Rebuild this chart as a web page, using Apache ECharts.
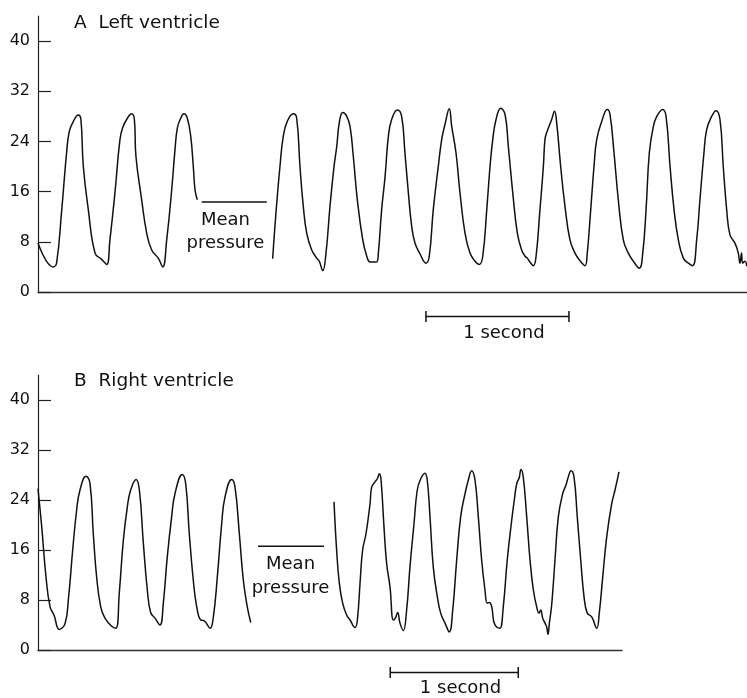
<!DOCTYPE html>
<html>
<head>
<meta charset="utf-8">
<script src="https://cdn.jsdelivr.net/npm/echarts@6/dist/echarts.min.js"></script>
<style>html,body{margin:0;padding:0;background:#fff;}#c{width:747px;height:698px;}</style>
</head>
<body>
<div id="c"></div>
<script>
// Tick labels (mmHg)
var yTicks = [0, 8, 16, 24, 32, 40];

// Panel A: left ventricle (time in s, pressure in mmHg)
var lvTime1 = [0, 0.107, 0.13, 0.166, 0.20, 0.219, 0.247, 0.282, 0.30, 0.317, 0.352, 0.399, 0.445, 0.48, 0.503, 0.538, 0.573, 0.592, 0.625, 0.655, 0.674, 0.685, 0.725, 0.76, 0.795, 0.841, 0.872, 0.90, 0.935, 0.958, 0.975, 0.998, 1.021, 1.044, 1.068, 1.086, 1.098, 1.114];
var lvPress1 = [7.8, 4.0, 4.6, 13.1, 22.2, 25.6, 27.2, 28.2, 27.5, 20.0, 13.1, 6.2, 5.2, 4.4, 8.3, 15.8, 24.3, 26.2, 27.7, 28.4, 27.5, 21.6, 14.7, 9.4, 6.7, 5.4, 4.0, 8.3, 16.3, 22.7, 26.2, 27.7, 28.4, 27.7, 24.8, 20.0, 16.3, 14.7];
var lvTime2 = [1.641, 1.664, 1.692, 1.715, 1.743, 1.785, 1.809, 1.832, 1.855, 1.879, 1.914, 1.949, 1.967, 1.991, 2.014, 2.042, 2.07, 2.089, 2.107, 2.131, 2.159, 2.182, 2.205, 2.233, 2.271, 2.299, 2.322, 2.368, 2.38, 2.403, 2.427, 2.45, 2.473, 2.513, 2.543, 2.566, 2.59, 2.613, 2.636, 2.671, 2.713, 2.736, 2.764, 2.799, 2.823, 2.846, 2.876, 2.893, 2.923, 2.951, 2.986, 3.021, 3.056, 3.086, 3.11, 3.138, 3.161, 3.18, 3.203, 3.236, 3.266, 3.289, 3.32, 3.352, 3.382, 3.406, 3.422, 3.436, 3.464, 3.483, 3.51, 3.534, 3.545, 3.557, 3.592, 3.612, 3.627, 3.655, 3.685, 3.72, 3.755, 3.79, 3.825, 3.841, 3.865, 3.888, 3.907, 3.942, 3.981, 4.0, 4.028, 4.058, 4.093, 4.128, 4.163, 4.205, 4.229, 4.252, 4.275, 4.303, 4.327, 4.368, 4.392, 4.42, 4.448, 4.478, 4.513, 4.548, 4.578, 4.606, 4.629, 4.657, 4.676, 4.711, 4.741, 4.769, 4.792, 4.816, 4.839, 4.874, 4.897, 4.909, 4.92, 4.927, 4.944, 4.956];
var lvPress2 = [5.3, 12.6, 20.0, 24.8, 27.2, 28.4, 27.7, 20.0, 13.7, 9.4, 6.7, 5.4, 4.9, 3.4, 6.2, 13.7, 20.0, 23.2, 27.0, 28.6, 28.0, 26.4, 21.6, 14.7, 8.3, 5.7, 4.8, 4.8, 6.2, 13.1, 18.4, 24.8, 27.5, 29.0, 28.0, 22.2, 15.8, 10.5, 7.8, 6.1, 4.6, 5.7, 13.1, 20.0, 24.3, 26.7, 29.2, 26.4, 22.2, 15.8, 9.4, 6.2, 4.9, 4.4, 5.7, 13.1, 20.0, 24.3, 27.5, 29.3, 28.3, 23.2, 15.8, 9.4, 6.7, 5.7, 5.4, 4.9, 4.2, 5.7, 13.1, 20.0, 24.3, 25.4, 27.5, 28.8, 27.0, 20.0, 13.7, 8.3, 6.2, 5.0, 4.2, 6.2, 13.1, 20.0, 24.3, 27.2, 29.1, 28.3, 22.2, 14.7, 8.3, 6.2, 4.9, 3.8, 6.2, 13.1, 22.2, 26.4, 28.0, 29.1, 28.0, 20.0, 13.1, 8.3, 5.4, 4.6, 4.2, 8.3, 14.7, 22.2, 25.9, 28.0, 28.9, 27.5, 20.0, 13.1, 9.1, 7.8, 6.2, 4.6, 6.2, 4.6, 4.9, 4.1];
var lvMeanTime = [1.145, 1.60];
var lvMeanPress = 14.35;

// Panel B: right ventricle
var rvTime1 = [0, 0.029, 0.0625, 0.094, 0.125, 0.166, 0.211, 0.237, 0.271, 0.302, 0.328, 0.375, 0.406, 0.432, 0.458, 0.49, 0.523, 0.576, 0.609, 0.635, 0.667, 0.698, 0.724, 0.766, 0.792, 0.823, 0.854, 0.88, 0.914, 0.953, 0.979, 1.01, 1.044, 1.07, 1.127, 1.154, 1.182, 1.213, 1.24, 1.271, 1.297, 1.344, 1.37, 1.401, 1.435, 1.461, 1.513, 1.539, 1.573, 1.604, 1.635, 1.662];
var rvPress1 = [25.8, 19.7, 11.7, 6.9, 5.6, 3.3, 4.2, 8.0, 16.0, 22.4, 25.6, 27.8, 26.7, 18.6, 11.7, 6.9, 5.1, 3.8, 3.5, 9.1, 17.6, 22.9, 25.6, 27.3, 25.6, 17.1, 9.6, 6.0, 5.1, 4.0, 7.5, 14.9, 21.3, 25.0, 28.1, 26.6, 18.6, 11.2, 6.9, 4.8, 4.7, 3.5, 5.3, 11.7, 20.2, 24.5, 27.3, 26.1, 18.6, 11.2, 6.9, 4.4];
var rvTime2 = [2.3125, 2.333, 2.354, 2.38, 2.411, 2.4375, 2.477, 2.495, 2.516, 2.536, 2.5625, 2.594, 2.607, 2.633, 2.651, 2.667, 2.68, 2.703, 2.724, 2.75, 2.776, 2.792, 2.81, 2.828, 2.854, 2.88, 2.906, 2.9375, 2.963, 2.99, 3.023, 3.041, 3.0625, 3.088, 3.12, 3.146, 3.18, 3.213, 3.24, 3.271, 3.302, 3.336, 3.362, 3.388, 3.414, 3.44, 3.466, 3.492, 3.51, 3.526, 3.545, 3.5625, 3.588, 3.609, 3.635, 3.666, 3.701, 3.721, 3.74, 3.76, 3.773, 3.791, 3.818, 3.844, 3.87, 3.896, 3.914, 3.927, 3.943, 3.961, 3.974, 3.984, 3.995, 4.013, 4.039, 4.065, 4.099, 4.125, 4.143, 4.164, 4.1875, 4.213, 4.24, 4.266, 4.291, 4.326, 4.365, 4.385, 4.412, 4.443, 4.482, 4.508, 4.539];
var rvPress2 = [23.7, 16.0, 10.7, 7.5, 5.6, 4.8, 3.6, 4.8, 10.7, 16.0, 18.6, 23.4, 26.1, 26.9, 27.4, 28.2, 27.2, 19.7, 13.8, 10.1, 4.8, 5.1, 6.0, 4.3, 3.1, 6.4, 13.3, 20.2, 25.6, 27.4, 28.3, 27.2, 21.3, 13.3, 8.5, 5.9, 4.3, 2.9, 6.4, 14.4, 21.3, 25.0, 27.2, 28.7, 27.2, 21.3, 14.4, 9.6, 7.5, 7.6, 6.9, 4.4, 3.6, 3.5, 6.9, 14.4, 20.8, 24.0, 26.6, 27.6, 28.9, 27.7, 21.3, 14.4, 9.6, 6.9, 5.9, 6.4, 5.1, 4.3, 3.7, 2.5, 4.3, 7.2, 14.4, 21.3, 25.0, 26.4, 27.7, 28.7, 27.7, 21.3, 14.4, 8.5, 5.9, 5.3, 3.5, 5.9, 11.7, 18.1, 23.4, 25.6, 28.5];
var rvMeanTime = [1.719, 2.234];
var rvMeanPress = 16.6;

// 1-second scale bars (start time, level below axis)
var scaleA = {start: 2.713, level: -3.9};
var scaleB = {start: 2.752, level: -3.6};

var FONT = 'DejaVu Sans';
var INK = '#111';

function zip(t, p) { return t.map(function (v, i) { return [v, p[i]]; }); }
function bar(s) {
  var a = s.start, b = s.start + 1, y = s.level, h = 0.88;
  return [[a, y + h], [a, y - h], [a, y], [b, y], [b, y + h], [b, y - h]];
}
function trace(idx, data, sm) {
  return {type: 'line', xAxisIndex: idx, yAxisIndex: idx, data: data, showSymbol: false, smooth: sm || 0,
    lineStyle: {color: INK, width: 1.5}, silent: true, clip: false};
}
function labels(idx, items) {
  return {type: 'scatter', xAxisIndex: idx, yAxisIndex: idx, symbolSize: 0.01, clip: false, silent: true,
    itemStyle: {color: INK, opacity: 1},
    label: {show: true, position: [0, 0], formatter: '{b}', fontFamily: FONT, fontSize: 18, color: INK,
      opacity: 1, textBorderWidth: 0, align: 'center', verticalAlign: 'middle'},
    data: items.map(function (d) { return {name: d[0], value: [d[1], d[2]]}; })};
}
function yAxis(idx) {
  return {type: 'value', gridIndex: idx, min: 0, max: 44,
    axisLine: {show: true, lineStyle: {color: '#222', width: 1.2}},
    axisTick: {show: true, inside: true, length: 13, customValues: yTicks, lineStyle: {color: '#222', width: 1.2}},
    axisLabel: {show: true, customValues: yTicks, margin: 8, fontFamily: FONT, fontSize: 16, color: INK},
    splitLine: {show: false}};
}
function xAxis(idx, max) {
  return {type: 'value', gridIndex: idx, min: 0, max: max,
    axisLine: {show: true, onZero: false, lineStyle: {color: '#333', width: 1.3}},
    axisTick: {show: false}, axisLabel: {show: false}, splitLine: {show: false}};
}

var chart = echarts.init(document.getElementById('c'), null, {renderer: 'canvas'});
chart.setOption({
  animation: false,
  backgroundColor: '#fff',
  title: [
    {text: 'A  Left ventricle', left: 74, top: 13.5, padding: 0, textStyle: {fontFamily: FONT, fontSize: 18.5, fontWeight: 'normal', color: INK}},
    {text: 'B  Right ventricle', left: 74, top: 371.5, padding: 0, textStyle: {fontFamily: FONT, fontSize: 18.5, fontWeight: 'normal', color: INK}}
  ],
  grid: [
    {left: 38, top: 16, width: 709, height: 276},
    {left: 38, top: 375, width: 584, height: 275}
  ],
  xAxis: [xAxis(0, 4.958), xAxis(1, 4.5625)],
  yAxis: [yAxis(0), yAxis(1)],
  series: [
    trace(0, zip(lvTime1, lvPress1), 0.45),
    trace(0, zip(lvTime2, lvPress2), 0.45),
    trace(0, [[lvMeanTime[0], lvMeanPress], [lvMeanTime[1], lvMeanPress]]),
    trace(0, bar(scaleA)),
    trace(1, zip(rvTime1, rvPress1), 0.45),
    trace(1, zip(rvTime2, rvPress2), 0.45),
    trace(1, [[rvMeanTime[0], rvMeanPress], [rvMeanTime[1], rvMeanPress]]),
    trace(1, bar(scaleB)),
    labels(0, [['Mean', 1.311, 11.5], ['pressure', 1.311, 7.7], ['1 second', 3.258, -6.54]]),
    labels(1, [['Mean', 1.973, 13.7], ['pressure', 1.973, 9.8], ['1 second', 3.301, -6.07]])
  ]
});
</script>
</body>
</html>
